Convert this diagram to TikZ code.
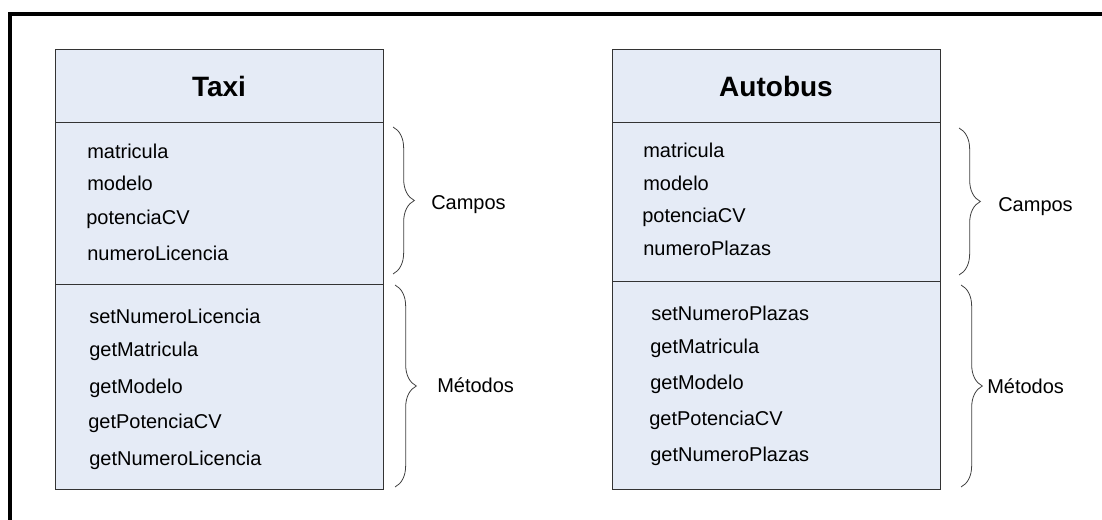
\documentclass[tikz,border=0pt]{standalone}
\usepackage{fontspec}
\setmainfont{Liberation Sans}
\usetikzlibrary{decorations.pathreplacing}
\definecolor{boxfill}{RGB}{229,235,246}

\begin{document}
\begin{tikzpicture}
                                [
                                    x=0.75pt, y=-0.75pt,
                                    part/.style = {draw=black!80, fill=boxfill, shape=rectangle, minimum width=246pt, line width=0.75pt, inner sep=0pt, outer sep=0pt, anchor=north west},
                                    title/.style = {part, minimum height=54.75pt, font=\fontsize{21}{25}\selectfont\bfseries},
                                    item/.style = {anchor=base west, inner sep=0pt, font=\fontsize{15}{18}\selectfont},
                                    brace/.style = {decorate, decoration={brace, amplitude=16pt}, draw=black!75, line width=0.6pt},
                                ]

                                \useasboundingbox (0,0) rectangle (1102,520);
                                \draw[line width=3pt] (10,520) -- (10,14) -- (1102,14);

                                % Taxi
                                \node[title] (taxiT) at (55,50)     {Taxi};
                                \node[part, minimum height=120.75pt] (taxiC) at (taxiT.south west)     {};
                                \node[part, minimum height=153.75pt] (taxiM) at (taxiC.south west)     {};

                                \node[item] (tc1) at (87,159)   {matricula};
                                \node[item] (tc2) at (87,191)   {modelo};
                                \node[item] (tc3) at (86,224)   {potenciaCV};
                                \node[item] (tc4) at (87,261)   {numeroLicencia};

                                \node[item] (tm1) at (89,323)   {setNumeroLicencia};
                                \node[item] (tm2) at (89,356)   {getMatricula};
                                \node[item] (tm3) at (89,393)   {getModelo};
                                \node[item] (tm4) at (88,428)   {getPotenciaCV};
                                \node[item] (tm5) at (89,465)   {getNumeroLicencia};

                                % Autobus
                                \node[title] (busT) at (612,50)     {Autobus};
                                \node[part, minimum height=118.5pt] (busC) at (busT.south west)     {};
                                \node[part, minimum height=156pt] (busM) at (busC.south west)     {};

                                \node[item] (bc1) at (643,158)   {matricula};
                                \node[item] (bc2) at (643,191)   {modelo};
                                \node[item] (bc3) at (642,223)   {potenciaCV};
                                \node[item] (bc4) at (643,256)   {numeroPlazas};

                                \node[item] (bm1) at (651,320)   {setNumeroPlazas};
                                \node[item] (bm2) at (650,353)   {getMatricula};
                                \node[item] (bm3) at (650,389)   {getModelo};
                                \node[item] (bm4) at (649,425)   {getPotenciaCV};
                                \node[item] (bm5) at (650,461)   {getNumeroPlazas};

                                % braces
                                \coordinate (taxiCa) at (393,127);
                                \coordinate (taxiCb) at (393,274);
                                \coordinate (taxiMa) at (395,285);
                                \coordinate (taxiMb) at (395,487);
                                \coordinate (busCa) at (959,128);
                                \coordinate (busCb) at (959,275);
                                \coordinate (busMa) at (961,285);
                                \coordinate (busMb) at (961,487);

                                \node[item] (lc1) at (431,210)  {Campos};
                                \node[item] (lm1) at (437,392)  {Métodos};
                                \node[item] (lc2) at (998,212)  {Campos};
                                \node[item] (lm2) at (987,393)  {Métodos};

                                \draw [brace] (taxiCa) -- (taxiCb);
                                \draw [brace] (taxiMa) -- (taxiMb);
                                \draw [brace] (busCa) -- (busCb);
                                \draw [brace] (busMa) -- (busMb);
                            \end{tikzpicture}
\end{document}
